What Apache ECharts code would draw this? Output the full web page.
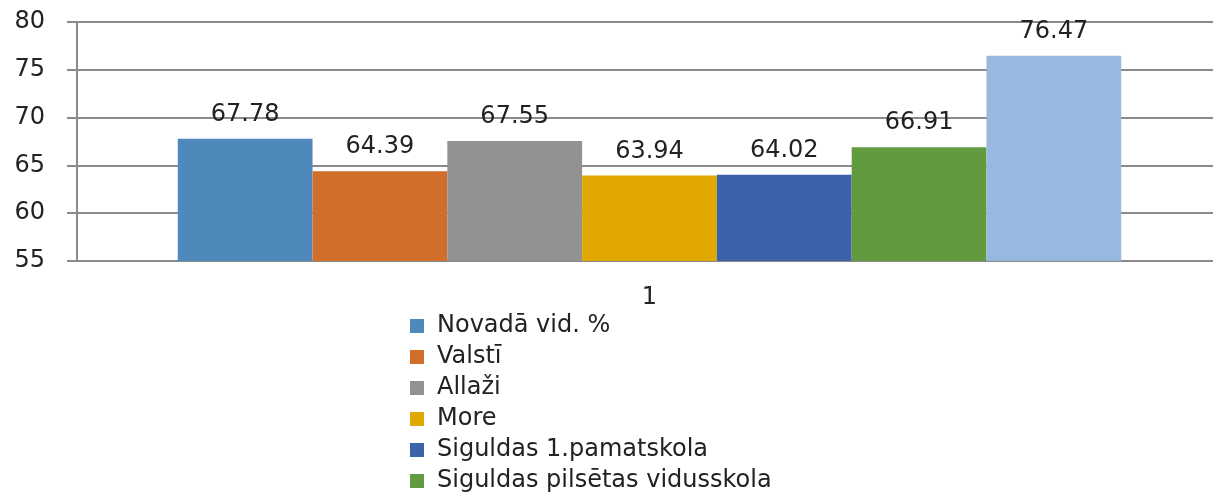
<!DOCTYPE html>
<html>
<head>
<meta charset="utf-8">
<script src="https://cdn.jsdelivr.net/npm/echarts@6/dist/echarts.min.js"></script>
<style>
  html, body { margin: 0; padding: 0; background: #fff; overflow: hidden; }
  /* plot area runs past the right edge of the window, like the original */
  #chart { width: 1222px; height: 493px; }
</style>
</head>
<body>
<div id="chart"></div>
<script>
const categories = ['1'];
const seriesNames = ['Novadā vid. %', 'Valstī', 'Allaži', 'More', 'Siguldas 1.pamatskola', 'Siguldas pilsētas vidusskola', ''];
const seriesValues = [67.78, 64.39, 67.55, 63.94, 64.02, 66.91, 76.47];
const seriesColors = ['#4F88BB', '#D16E2C', '#929292', '#E0A800', '#3C62AA', '#629A3F', '#98B8DF'];
const yTicks = { min: 55, max: 80, interval: 5 };

const font = 'DejaVu Sans';

const chart = echarts.init(document.getElementById('chart'));

const series = seriesValues.map((v, i) => ({
    name: seriesNames[i] || 'Series 7',
    type: 'bar',
    data: [v],
    barGap: '0%',
    barCategoryGap: '17.6%',
    itemStyle: { color: seriesColors[i] },
    label: {
        show: true,
        position: 'top',
        distance: 12,
        formatter: (p) => p.value.toFixed(2),
        fontFamily: font,
        fontSize: 24,
        color: '#222'
    }
}));

chart.setOption({
    animation: false,
    grid: { left: 77, right: 0, top: 22, bottom: 232 },
    legend: {
        orient: 'vertical',
        left: 405,
        top: 309,
        height: 400,
        data: seriesNames.slice(0, 6),
        itemWidth: 14,
        itemHeight: 14,
        itemGap: 7,
        icon: 'rect',
        textStyle: { fontFamily: font, fontSize: 24, color: '#222', lineHeight: 24, padding: [0, 0, 0, 8] }
    },
    xAxis: {
        type: 'category',
        data: categories,
        axisLine: { lineStyle: { color: '#8a8a8a', width: 2 } },
        axisTick: { show: false },
        axisLabel: { fontFamily: font, fontSize: 24, color: '#222', margin: 25 }
    },
    yAxis: {
        type: 'value',
        min: yTicks.min,
        max: yTicks.max,
        interval: yTicks.interval,
        axisLine: { show: true, lineStyle: { color: '#8a8a8a', width: 2 } },
        axisTick: { show: true, length: 10, lineStyle: { color: '#8a8a8a', width: 2 } },
        splitLine: { lineStyle: { color: '#8a8a8a', width: 2 } },
        axisLabel: { fontFamily: font, fontSize: 24, color: '#222', margin: 32 }
    },
    series: series
});
</script>
</body>
</html>
